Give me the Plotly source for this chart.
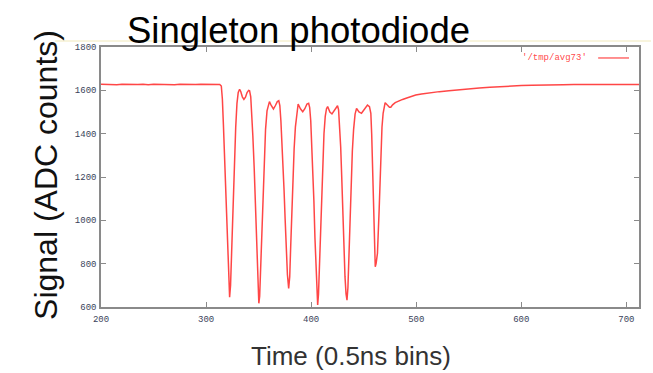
import plotly.graph_objects as go

# Data
time_bins = [
    200, 205, 210, 215, 220, 225, 230, 235, 240, 245, 250, 255, 260, 265, 270, 275,
    280, 285, 290, 295, 300, 305, 310, 313,
    # dip 1
    314.5, 315.5, 316.5, 317.5, 318.5, 319.5, 320.5, 321.5, 322.4, 323.3, 324.2, 325.2,
    326.2, 327.2, 328.2, 329.4, 330.6, 331.9, 333, 334.5, 336, 337.5, 339, 340.5, 341.4,
    # dip 2
    342.5, 343.5, 344.5, 345.8, 347, 348.5, 349.4, 350.2, 351, 351.8, 352.8, 354, 355.2,
    356.6, 358, 359.2, 360.3, 362, 364.1, 366, 367.8, 369.2,
    # dip 3
    370.2, 371.2, 372.2, 373.2, 374.2, 375.2, 376.2, 377.4, 378.6, 379.6, 380.6, 381.6,
    382.6, 383.8, 385, 386.4, 387.6, 389.8, 392, 394, 396, 397.6,
    # dip 4
    398.6, 399.6, 400.6, 401.6, 402.6, 403.6, 404.6, 405.4, 406.2, 407, 408, 409, 410,
    411, 412.2, 413.4, 414.6, 415.7, 417.8, 419.8, 422, 423.8, 425.1,
    # dip 5
    426.1, 427.1, 428.1, 429.1, 430.1, 431.1, 432.2, 433.2, 434.1, 435, 436, 437, 438,
    439.2, 440.4, 441.8, 443.2, 445.5, 447.9, 450, 452, 453.6,
    # dip 6
    455.5, 456.8, 457.6, 458.4, 459.2, 460, 460.5, 461, 461.8, 463.1, 464.7, 466.3,
    467.4, 468.5, 469.5, 470.4, 472.5, 474.5, 475.8, 477.5, 480, 483.7, 487, 491, 495,
    499.5, 505, 510, 516, 522, 531.1, 540, 550, 560, 570, 578.6, 590, 600, 610, 620,
    630, 640, 650, 660, 670, 680, 690, 700, 712,
]
signal_adc = [
    1628, 1627, 1629, 1626, 1628, 1627, 1629, 1627, 1628, 1626, 1628, 1627, 1629, 1627,
    1626, 1628, 1627, 1629, 1627, 1628, 1627, 1629, 1628, 1627,
    # dip 1
    1620, 1560, 1440, 1290, 1180, 1080, 900, 730, 645, 700, 850, 1000,
    1160, 1320, 1430, 1540, 1590, 1605, 1595, 1570, 1558, 1568, 1590, 1600, 1598,
    # dip 2
    1570, 1500, 1390, 1240, 1070, 880, 730, 617, 650, 760, 950, 1150, 1300,
    1420, 1505, 1535, 1548, 1530, 1514, 1530, 1548, 1552,
    # dip 3
    1530, 1460, 1370, 1260, 1140, 1010, 880, 750, 686, 740, 890, 1050,
    1200, 1330, 1430, 1505, 1537, 1515, 1501, 1515, 1537, 1540,
    # dip 4
    1520, 1460, 1360, 1240, 1090, 920, 760, 650, 609, 660, 800, 980, 1150,
    1290, 1400, 1480, 1515, 1525, 1500, 1491, 1505, 1522, 1529,
    # dip 5
    1510, 1440, 1340, 1200, 1040, 880, 740, 660, 632, 690, 840, 1010, 1170,
    1320, 1420, 1490, 1517, 1500, 1494, 1510, 1526, 1532,
    # dip 6
    1525, 1494, 1400, 1263, 1130, 1002, 880, 786, 800, 848, 1048, 1311,
    1430, 1494, 1530, 1543, 1532, 1522, 1522, 1533, 1543, 1552, 1558, 1565, 1572,
    1578, 1583, 1587, 1590, 1594, 1598, 1603, 1607, 1611, 1614, 1617, 1620, 1622, 1623, 1625,
    1626, 1626, 1627, 1627, 1628, 1627, 1628, 1628, 1627,
]
x_ticks = [200, 300, 400, 500, 600, 700]
y_ticks = [600, 800, 1000, 1200, 1400, 1600, 1800]
legend_label = "'/tmp/avg73'"

W, H = 653, 373
L, R, T, B = 101, 12, 47, 65.5
pw, ph = W - L - R, H - T - B

def px(xp):
    return (xp - L) / pw

def py(yp):
    return (H - B - yp) / ph

red = "rgba(255,50,50,0.9)"
tick_font = dict(family="Liberation Mono, DejaVu Sans Mono, monospace", size=9, color="#3a3f5a")

fig = go.Figure()
fig.add_trace(go.Scatter(x=time_bins, y=signal_adc, mode="lines",
                         line=dict(color=red, width=1.5), showlegend=False))

axis_common = dict(showgrid=False, zeroline=False, showline=True, linecolor="#8a8a8a",
                   linewidth=1.5, mirror="ticks", ticks="inside", ticklen=5,
                   tickcolor="#8a8a8a", tickwidth=1.2, tickfont=tick_font)

fig.update_xaxes(range=[200, 712], tickvals=x_ticks, ticktext=[str(v) for v in x_ticks],
                 ticklabelstandoff=2, **axis_common)
fig.update_yaxes(range=[600, 1800], tickvals=y_ticks, ticktext=[str(v) for v in y_ticks],
                 ticklabelstandoff=1, **axis_common)

fig.add_annotation(text="Singleton photodiode", xref="paper", yref="paper",
                   x=px(125), y=py(30), xanchor="left", yanchor="middle", showarrow=False,
                   font=dict(family="Liberation Sans, Arial", size=36.5, color="#000000"))
fig.add_annotation(text="Signal (ADC counts)", xref="paper", yref="paper",
                   x=px(46), y=py(175), xanchor="center", yanchor="middle", showarrow=False,
                   textangle=-90,
                   font=dict(family="Liberation Sans, Arial", size=32, color="#111111"))
fig.add_annotation(text="Time (0.5ns bins)", xref="paper", yref="paper",
                   x=px(352), y=py(357), xanchor="center", yanchor="middle", showarrow=False,
                   font=dict(family="Liberation Sans, Arial", size=26, color="#333333"))
fig.add_annotation(text=legend_label, xref="paper", yref="paper",
                   x=px(591), y=py(58), xanchor="right", yanchor="middle", showarrow=False,
                   font=dict(family="Liberation Mono, DejaVu Sans Mono, monospace", size=9,
                             color=red))
fig.add_shape(type="line", xref="paper", yref="paper", x0=px(600), x1=px(631),
              y0=py(58), y1=py(58), line=dict(color=red, width=1.2))
# faint slide rule line above the plot
fig.add_shape(type="line", xref="paper", yref="paper", x0=px(55), x1=px(653),
              y0=py(41), y1=py(41), line=dict(color="#f6f0d2", width=1.5), layer="below")

fig.update_layout(width=W, height=H, margin=dict(l=L, r=R, t=T, b=B),
                  paper_bgcolor="white", plot_bgcolor="white")
fig.write_html("out.html")
